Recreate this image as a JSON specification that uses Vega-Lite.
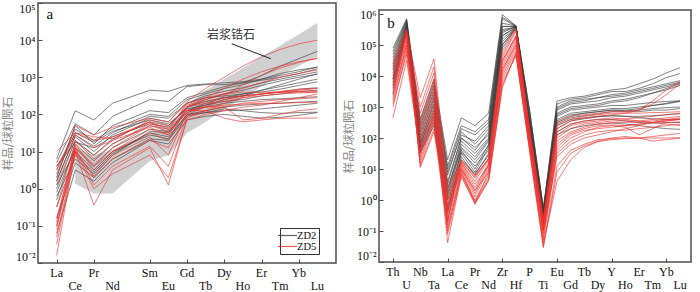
{
"$schema": "https://vega.github.io/schema/vega-lite/v6.json",
"padding": {"left": 1, "top": 1, "right": 0, "bottom": 0},
"background": "white",
"config": {
  "view": {"stroke": "#4d4d4d", "strokeWidth": 1.5},
  "axis": {"labelFont": "Liberation Serif", "labelFontSize": 12, "labelColor": "#111", "tickColor": "#4d4d4d", "domain": false, "grid": false, "titleFont": "Noto Sans CJK SC", "titleFontWeight": "normal", "titleColor": "#888", "titleFontSize": 11.5}
},
"datasets": {
"band": [
{"x":1,"lo":1.35,"hi":12.6},{"x":2,"lo":0.74,"hi":7.9},{"x":3,"lo":0.74,"hi":11.2},{"x":5,"lo":5.6,"hi":31.6},{"x":6,"lo":7.9,"hi":40},{"x":7,"lo":31.6,"hi":178},{"x":8,"lo":63,"hi":447},{"x":9,"lo":141,"hi":891},{"x":10,"lo":282,"hi":1780},{"x":11,"lo":562,"hi":3550},{"x":12,"lo":1120,"hi":7080},{"x":13,"lo":2000,"hi":14100},{"x":14,"lo":3550,"hi":29500}
],
"a": [
{"s":"B1","g":"ZD2","x":0,"v":6.3},{"s":"B1","g":"ZD2","x":1,"v":126},{"s":"B1","g":"ZD2","x":2,"v":71},{"s":"B1","g":"ZD2","x":3,"v":200},{"s":"B1","g":"ZD2","x":5,"v":447},{"s":"B1","g":"ZD2","x":6,"v":417},{"s":"B1","g":"ZD2","x":7,"v":603},{"s":"B1","g":"ZD2","x":8,"v":661},{"s":"B1","g":"ZD2","x":9,"v":708},{"s":"B1","g":"ZD2","x":10,"v":760},{"s":"B1","g":"ZD2","x":11,"v":890},{"s":"B1","g":"ZD2","x":12,"v":1120},{"s":"B1","g":"ZD2","x":13,"v":1410},{"s":"B1","g":"ZD2","x":14,"v":1900},
{"s":"B2","g":"ZD2","x":0,"v":2},{"s":"B2","g":"ZD2","x":1,"v":50},{"s":"B2","g":"ZD2","x":2,"v":16},{"s":"B2","g":"ZD2","x":3,"v":50},{"s":"B2","g":"ZD2","x":5,"v":126},{"s":"B2","g":"ZD2","x":6,"v":112},{"s":"B2","g":"ZD2","x":7,"v":282},{"s":"B2","g":"ZD2","x":8,"v":398},{"s":"B2","g":"ZD2","x":9,"v":562},{"s":"B2","g":"ZD2","x":10,"v":708},{"s":"B2","g":"ZD2","x":11,"v":1120},{"s":"B2","g":"ZD2","x":12,"v":2000},{"s":"B2","g":"ZD2","x":13,"v":3160},{"s":"B2","g":"ZD2","x":14,"v":5000},
{"s":"B3","g":"ZD2","x":0,"v":5},{"s":"B3","g":"ZD2","x":1,"v":56},{"s":"B3","g":"ZD2","x":2,"v":28},{"s":"B3","g":"ZD2","x":3,"v":89},{"s":"B3","g":"ZD2","x":5,"v":251},{"s":"B3","g":"ZD2","x":6,"v":224},{"s":"B3","g":"ZD2","x":7,"v":562},{"s":"B3","g":"ZD2","x":8,"v":631},{"s":"B3","g":"ZD2","x":9,"v":631},{"s":"B3","g":"ZD2","x":10,"v":708},{"s":"B3","g":"ZD2","x":11,"v":832},{"s":"B3","g":"ZD2","x":12,"v":1000},{"s":"B3","g":"ZD2","x":13,"v":1260},{"s":"B3","g":"ZD2","x":14,"v":1700},
{"s":"B4","g":"ZD2","x":0,"v":3.2},{"s":"B4","g":"ZD2","x":1,"v":40},{"s":"B4","g":"ZD2","x":2,"v":20},{"s":"B4","g":"ZD2","x":3,"v":40},{"s":"B4","g":"ZD2","x":5,"v":100},{"s":"B4","g":"ZD2","x":6,"v":89},{"s":"B4","g":"ZD2","x":7,"v":251},{"s":"B4","g":"ZD2","x":8,"v":355},{"s":"B4","g":"ZD2","x":9,"v":501},{"s":"B4","g":"ZD2","x":10,"v":631},{"s":"B4","g":"ZD2","x":11,"v":891},{"s":"B4","g":"ZD2","x":12,"v":1260},{"s":"B4","g":"ZD2","x":13,"v":1580},{"s":"B4","g":"ZD2","x":14,"v":1860},
{"s":"B5","g":"ZD2","x":0,"v":1.6},{"s":"B5","g":"ZD2","x":1,"v":28},{"s":"B5","g":"ZD2","x":2,"v":14},{"s":"B5","g":"ZD2","x":3,"v":32},{"s":"B5","g":"ZD2","x":5,"v":89},{"s":"B5","g":"ZD2","x":6,"v":79},{"s":"B5","g":"ZD2","x":7,"v":200},{"s":"B5","g":"ZD2","x":8,"v":316},{"s":"B5","g":"ZD2","x":9,"v":417},{"s":"B5","g":"ZD2","x":10,"v":525},{"s":"B5","g":"ZD2","x":11,"v":708},{"s":"B5","g":"ZD2","x":12,"v":891},{"s":"B5","g":"ZD2","x":13,"v":1120},{"s":"B5","g":"ZD2","x":14,"v":1400},
{"s":"B6","g":"ZD2","x":0,"v":1},{"s":"B6","g":"ZD2","x":1,"v":20},{"s":"B6","g":"ZD2","x":2,"v":8},{"s":"B6","g":"ZD2","x":3,"v":22},{"s":"B6","g":"ZD2","x":5,"v":63},{"s":"B6","g":"ZD2","x":6,"v":50},{"s":"B6","g":"ZD2","x":7,"v":158},{"s":"B6","g":"ZD2","x":8,"v":251},{"s":"B6","g":"ZD2","x":9,"v":355},{"s":"B6","g":"ZD2","x":10,"v":447},{"s":"B6","g":"ZD2","x":11,"v":603},{"s":"B6","g":"ZD2","x":12,"v":794},{"s":"B6","g":"ZD2","x":13,"v":1000},{"s":"B6","g":"ZD2","x":14,"v":1200},
{"s":"B7","g":"ZD2","x":0,"v":0.5},{"s":"B7","g":"ZD2","x":1,"v":16},{"s":"B7","g":"ZD2","x":2,"v":5.6},{"s":"B7","g":"ZD2","x":3,"v":16},{"s":"B7","g":"ZD2","x":5,"v":50},{"s":"B7","g":"ZD2","x":6,"v":40},{"s":"B7","g":"ZD2","x":7,"v":126},{"s":"B7","g":"ZD2","x":8,"v":200},{"s":"B7","g":"ZD2","x":9,"v":282},{"s":"B7","g":"ZD2","x":10,"v":355},{"s":"B7","g":"ZD2","x":11,"v":447},{"s":"B7","g":"ZD2","x":12,"v":562},{"s":"B7","g":"ZD2","x":13,"v":708},{"s":"B7","g":"ZD2","x":14,"v":890},
{"s":"B8","g":"ZD2","x":0,"v":2.5},{"s":"B8","g":"ZD2","x":1,"v":32},{"s":"B8","g":"ZD2","x":2,"v":18},{"s":"B8","g":"ZD2","x":3,"v":35},{"s":"B8","g":"ZD2","x":5,"v":71},{"s":"B8","g":"ZD2","x":6,"v":56},{"s":"B8","g":"ZD2","x":7,"v":141},{"s":"B8","g":"ZD2","x":8,"v":178},{"s":"B8","g":"ZD2","x":9,"v":224},{"s":"B8","g":"ZD2","x":10,"v":251},{"s":"B8","g":"ZD2","x":11,"v":316},{"s":"B8","g":"ZD2","x":12,"v":355},{"s":"B8","g":"ZD2","x":13,"v":417},{"s":"B8","g":"ZD2","x":14,"v":447},
{"s":"B9","g":"ZD2","x":0,"v":0.8},{"s":"B9","g":"ZD2","x":1,"v":12.6},{"s":"B9","g":"ZD2","x":2,"v":4},{"s":"B9","g":"ZD2","x":3,"v":12.6},{"s":"B9","g":"ZD2","x":5,"v":40},{"s":"B9","g":"ZD2","x":6,"v":35},{"s":"B9","g":"ZD2","x":7,"v":112},{"s":"B9","g":"ZD2","x":8,"v":158},{"s":"B9","g":"ZD2","x":9,"v":200},{"s":"B9","g":"ZD2","x":10,"v":224},{"s":"B9","g":"ZD2","x":11,"v":251},{"s":"B9","g":"ZD2","x":12,"v":263},{"s":"B9","g":"ZD2","x":13,"v":282},{"s":"B9","g":"ZD2","x":14,"v":300},
{"s":"B10","g":"ZD2","x":0,"v":0.32},{"s":"B10","g":"ZD2","x":1,"v":8},{"s":"B10","g":"ZD2","x":2,"v":2.8},{"s":"B10","g":"ZD2","x":3,"v":8.9},{"s":"B10","g":"ZD2","x":5,"v":32},{"s":"B10","g":"ZD2","x":6,"v":25},{"s":"B10","g":"ZD2","x":7,"v":100},{"s":"B10","g":"ZD2","x":8,"v":126},{"s":"B10","g":"ZD2","x":9,"v":158},{"s":"B10","g":"ZD2","x":10,"v":178},{"s":"B10","g":"ZD2","x":11,"v":190},{"s":"B10","g":"ZD2","x":12,"v":200},{"s":"B10","g":"ZD2","x":13,"v":214},{"s":"B10","g":"ZD2","x":14,"v":224},
{"s":"B11","g":"ZD2","x":0,"v":1.26},{"s":"B11","g":"ZD2","x":1,"v":10},{"s":"B11","g":"ZD2","x":2,"v":3.2},{"s":"B11","g":"ZD2","x":3,"v":10},{"s":"B11","g":"ZD2","x":5,"v":28},{"s":"B11","g":"ZD2","x":6,"v":22},{"s":"B11","g":"ZD2","x":7,"v":100},{"s":"B11","g":"ZD2","x":8,"v":112},{"s":"B11","g":"ZD2","x":9,"v":126},{"s":"B11","g":"ZD2","x":10,"v":132},{"s":"B11","g":"ZD2","x":11,"v":141},{"s":"B11","g":"ZD2","x":12,"v":158},{"s":"B11","g":"ZD2","x":13,"v":178},{"s":"B11","g":"ZD2","x":14,"v":200},
{"s":"B12","g":"ZD2","x":0,"v":0.16},{"s":"B12","g":"ZD2","x":1,"v":5},{"s":"B12","g":"ZD2","x":2,"v":2},{"s":"B12","g":"ZD2","x":3,"v":6.3},{"s":"B12","g":"ZD2","x":5,"v":22},{"s":"B12","g":"ZD2","x":6,"v":20},{"s":"B12","g":"ZD2","x":7,"v":89},{"s":"B12","g":"ZD2","x":8,"v":112},{"s":"B12","g":"ZD2","x":9,"v":141},{"s":"B12","g":"ZD2","x":10,"v":126},{"s":"B12","g":"ZD2","x":11,"v":112},{"s":"B12","g":"ZD2","x":12,"v":107},{"s":"B12","g":"ZD2","x":13,"v":112},{"s":"B12","g":"ZD2","x":14,"v":115},
{"s":"B13","g":"ZD2","x":0,"v":4},{"s":"B13","g":"ZD2","x":1,"v":18},{"s":"B13","g":"ZD2","x":2,"v":12.6},{"s":"B13","g":"ZD2","x":3,"v":25},{"s":"B13","g":"ZD2","x":5,"v":56},{"s":"B13","g":"ZD2","x":6,"v":45},{"s":"B13","g":"ZD2","x":7,"v":158},{"s":"B13","g":"ZD2","x":8,"v":224},{"s":"B13","g":"ZD2","x":9,"v":282},{"s":"B13","g":"ZD2","x":10,"v":316},{"s":"B13","g":"ZD2","x":11,"v":355},{"s":"B13","g":"ZD2","x":12,"v":398},{"s":"B13","g":"ZD2","x":13,"v":479},{"s":"B13","g":"ZD2","x":14,"v":525},
{"s":"B14","g":"ZD2","x":0,"v":0.063},{"s":"B14","g":"ZD2","x":1,"v":3.2},{"s":"B14","g":"ZD2","x":2,"v":1.6},{"s":"B14","g":"ZD2","x":3,"v":5},{"s":"B14","g":"ZD2","x":5,"v":20},{"s":"B14","g":"ZD2","x":6,"v":16},{"s":"B14","g":"ZD2","x":7,"v":71},{"s":"B14","g":"ZD2","x":8,"v":89},{"s":"B14","g":"ZD2","x":9,"v":100},{"s":"B14","g":"ZD2","x":10,"v":89},{"s":"B14","g":"ZD2","x":11,"v":80},{"s":"B14","g":"ZD2","x":12,"v":83},{"s":"B14","g":"ZD2","x":13,"v":95},{"s":"B14","g":"ZD2","x":14,"v":112},
{"s":"B15","g":"ZD2","x":0,"v":1.6},{"s":"B15","g":"ZD2","x":1,"v":25},{"s":"B15","g":"ZD2","x":2,"v":10},{"s":"B15","g":"ZD2","x":3,"v":28},{"s":"B15","g":"ZD2","x":5,"v":79},{"s":"B15","g":"ZD2","x":6,"v":63},{"s":"B15","g":"ZD2","x":7,"v":200},{"s":"B15","g":"ZD2","x":8,"v":282},{"s":"B15","g":"ZD2","x":9,"v":316},{"s":"B15","g":"ZD2","x":10,"v":355},{"s":"B15","g":"ZD2","x":11,"v":398},{"s":"B15","g":"ZD2","x":12,"v":479},{"s":"B15","g":"ZD2","x":13,"v":603},{"s":"B15","g":"ZD2","x":14,"v":760},
{"s":"B16","g":"ZD2","x":0,"v":0.63},{"s":"B16","g":"ZD2","x":1,"v":6.3},{"s":"B16","g":"ZD2","x":2,"v":2.5},{"s":"B16","g":"ZD2","x":3,"v":7.9},{"s":"B16","g":"ZD2","x":5,"v":35},{"s":"B16","g":"ZD2","x":6,"v":32},{"s":"B16","g":"ZD2","x":7,"v":126},{"s":"B16","g":"ZD2","x":8,"v":178},{"s":"B16","g":"ZD2","x":9,"v":251},{"s":"B16","g":"ZD2","x":10,"v":316},{"s":"B16","g":"ZD2","x":11,"v":447},{"s":"B16","g":"ZD2","x":12,"v":631},{"s":"B16","g":"ZD2","x":13,"v":891},{"s":"B16","g":"ZD2","x":14,"v":1260},
{"s":"R1","g":"ZD5","x":0,"v":2},{"s":"R1","g":"ZD5","x":1,"v":50},{"s":"R1","g":"ZD5","x":2,"v":28},{"s":"R1","g":"ZD5","x":3,"v":45},{"s":"R1","g":"ZD5","x":5,"v":79},{"s":"R1","g":"ZD5","x":6,"v":63},{"s":"R1","g":"ZD5","x":7,"v":224},{"s":"R1","g":"ZD5","x":8,"v":501},{"s":"R1","g":"ZD5","x":9,"v":1000},{"s":"R1","g":"ZD5","x":10,"v":2000},{"s":"R1","g":"ZD5","x":11,"v":3550},{"s":"R1","g":"ZD5","x":12,"v":5620},{"s":"R1","g":"ZD5","x":13,"v":7940},{"s":"R1","g":"ZD5","x":14,"v":10000},
{"s":"R2","g":"ZD5","x":0,"v":0.1},{"s":"R2","g":"ZD5","x":1,"v":12.6},{"s":"R2","g":"ZD5","x":2,"v":4},{"s":"R2","g":"ZD5","x":3,"v":10},{"s":"R2","g":"ZD5","x":5,"v":32},{"s":"R2","g":"ZD5","x":6,"v":20},{"s":"R2","g":"ZD5","x":7,"v":158},{"s":"R2","g":"ZD5","x":8,"v":282},{"s":"R2","g":"ZD5","x":9,"v":501},{"s":"R2","g":"ZD5","x":10,"v":891},{"s":"R2","g":"ZD5","x":11,"v":1410},{"s":"R2","g":"ZD5","x":12,"v":2000},{"s":"R2","g":"ZD5","x":13,"v":2630},{"s":"R2","g":"ZD5","x":14,"v":3160},
{"s":"R3","g":"ZD5","x":0,"v":0.016},{"s":"R3","g":"ZD5","x":1,"v":11},{"s":"R3","g":"ZD5","x":2,"v":2},{"s":"R3","g":"ZD5","x":3,"v":6.3},{"s":"R3","g":"ZD5","x":5,"v":20},{"s":"R3","g":"ZD5","x":6,"v":12.6},{"s":"R3","g":"ZD5","x":7,"v":100},{"s":"R3","g":"ZD5","x":8,"v":158},{"s":"R3","g":"ZD5","x":9,"v":251},{"s":"R3","g":"ZD5","x":10,"v":316},{"s":"R3","g":"ZD5","x":11,"v":355},{"s":"R3","g":"ZD5","x":12,"v":417},{"s":"R3","g":"ZD5","x":13,"v":479},{"s":"R3","g":"ZD5","x":14,"v":500},
{"s":"R4","g":"ZD5","x":0,"v":0.126},{"s":"R4","g":"ZD5","x":1,"v":16},{"s":"R4","g":"ZD5","x":2,"v":3.2},{"s":"R4","g":"ZD5","x":3,"v":10},{"s":"R4","g":"ZD5","x":5,"v":40},{"s":"R4","g":"ZD5","x":6,"v":28},{"s":"R4","g":"ZD5","x":7,"v":158},{"s":"R4","g":"ZD5","x":8,"v":224},{"s":"R4","g":"ZD5","x":9,"v":282},{"s":"R4","g":"ZD5","x":10,"v":316},{"s":"R4","g":"ZD5","x":11,"v":355},{"s":"R4","g":"ZD5","x":12,"v":398},{"s":"R4","g":"ZD5","x":13,"v":447},{"s":"R4","g":"ZD5","x":14,"v":500},
{"s":"R5","g":"ZD5","x":0,"v":0.05},{"s":"R5","g":"ZD5","x":1,"v":10},{"s":"R5","g":"ZD5","x":2,"v":0.36},{"s":"R5","g":"ZD5","x":3,"v":3.2},{"s":"R5","g":"ZD5","x":5,"v":12.6},{"s":"R5","g":"ZD5","x":6,"v":1.26},{"s":"R5","g":"ZD5","x":7,"v":79},{"s":"R5","g":"ZD5","x":8,"v":126},{"s":"R5","g":"ZD5","x":9,"v":200},{"s":"R5","g":"ZD5","x":10,"v":282},{"s":"R5","g":"ZD5","x":11,"v":355},{"s":"R5","g":"ZD5","x":12,"v":398},{"s":"R5","g":"ZD5","x":13,"v":417},{"s":"R5","g":"ZD5","x":14,"v":427},
{"s":"R6","g":"ZD5","x":0,"v":3.2},{"s":"R6","g":"ZD5","x":1,"v":32},{"s":"R6","g":"ZD5","x":2,"v":20},{"s":"R6","g":"ZD5","x":3,"v":25},{"s":"R6","g":"ZD5","x":5,"v":63},{"s":"R6","g":"ZD5","x":6,"v":40},{"s":"R6","g":"ZD5","x":7,"v":200},{"s":"R6","g":"ZD5","x":8,"v":282},{"s":"R6","g":"ZD5","x":9,"v":355},{"s":"R6","g":"ZD5","x":10,"v":398},{"s":"R6","g":"ZD5","x":11,"v":398},{"s":"R6","g":"ZD5","x":12,"v":398},{"s":"R6","g":"ZD5","x":13,"v":398},{"s":"R6","g":"ZD5","x":14,"v":400},
{"s":"R7","g":"ZD5","x":0,"v":0.16},{"s":"R7","g":"ZD5","x":1,"v":12.6},{"s":"R7","g":"ZD5","x":2,"v":1.26},{"s":"R7","g":"ZD5","x":3,"v":4},{"s":"R7","g":"ZD5","x":5,"v":14},{"s":"R7","g":"ZD5","x":6,"v":4},{"s":"R7","g":"ZD5","x":7,"v":89},{"s":"R7","g":"ZD5","x":8,"v":126},{"s":"R7","g":"ZD5","x":9,"v":158},{"s":"R7","g":"ZD5","x":10,"v":200},{"s":"R7","g":"ZD5","x":11,"v":224},{"s":"R7","g":"ZD5","x":12,"v":251},{"s":"R7","g":"ZD5","x":13,"v":263},{"s":"R7","g":"ZD5","x":14,"v":282},
{"s":"R8","g":"ZD5","x":0,"v":1.26},{"s":"R8","g":"ZD5","x":1,"v":20},{"s":"R8","g":"ZD5","x":2,"v":6.3},{"s":"R8","g":"ZD5","x":3,"v":16},{"s":"R8","g":"ZD5","x":5,"v":56},{"s":"R8","g":"ZD5","x":6,"v":45},{"s":"R8","g":"ZD5","x":7,"v":178},{"s":"R8","g":"ZD5","x":8,"v":251},{"s":"R8","g":"ZD5","x":9,"v":355},{"s":"R8","g":"ZD5","x":10,"v":501},{"s":"R8","g":"ZD5","x":11,"v":708},{"s":"R8","g":"ZD5","x":12,"v":1000},{"s":"R8","g":"ZD5","x":13,"v":1260},{"s":"R8","g":"ZD5","x":14,"v":1580},
{"s":"R9","g":"ZD5","x":0,"v":0.08},{"s":"R9","g":"ZD5","x":1,"v":14},{"s":"R9","g":"ZD5","x":2,"v":4.5},{"s":"R9","g":"ZD5","x":3,"v":12.6},{"s":"R9","g":"ZD5","x":5,"v":50},{"s":"R9","g":"ZD5","x":6,"v":35},{"s":"R9","g":"ZD5","x":7,"v":126},{"s":"R9","g":"ZD5","x":8,"v":158},{"s":"R9","g":"ZD5","x":9,"v":178},{"s":"R9","g":"ZD5","x":10,"v":190},{"s":"R9","g":"ZD5","x":11,"v":200},{"s":"R9","g":"ZD5","x":12,"v":200},{"s":"R9","g":"ZD5","x":13,"v":209},{"s":"R9","g":"ZD5","x":14,"v":214},
{"s":"R10","g":"ZD5","x":0,"v":10},{"s":"R10","g":"ZD5","x":1,"v":32},{"s":"R10","g":"ZD5","x":2,"v":25},{"s":"R10","g":"ZD5","x":3,"v":22},{"s":"R10","g":"ZD5","x":5,"v":63},{"s":"R10","g":"ZD5","x":6,"v":32},{"s":"R10","g":"ZD5","x":7,"v":126},{"s":"R10","g":"ZD5","x":8,"v":126},{"s":"R10","g":"ZD5","x":9,"v":79},{"s":"R10","g":"ZD5","x":10,"v":63},{"s":"R10","g":"ZD5","x":11,"v":71},{"s":"R10","g":"ZD5","x":12,"v":79},{"s":"R10","g":"ZD5","x":13,"v":79},{"s":"R10","g":"ZD5","x":14,"v":80},
{"s":"R11","g":"ZD5","x":0,"v":0.032},{"s":"R11","g":"ZD5","x":1,"v":10},{"s":"R11","g":"ZD5","x":2,"v":1},{"s":"R11","g":"ZD5","x":3,"v":2.5},{"s":"R11","g":"ZD5","x":5,"v":8},{"s":"R11","g":"ZD5","x":6,"v":2},{"s":"R11","g":"ZD5","x":7,"v":71},{"s":"R11","g":"ZD5","x":8,"v":100},{"s":"R11","g":"ZD5","x":9,"v":126},{"s":"R11","g":"ZD5","x":10,"v":158},{"s":"R11","g":"ZD5","x":11,"v":178},{"s":"R11","g":"ZD5","x":12,"v":224},{"s":"R11","g":"ZD5","x":13,"v":282},{"s":"R11","g":"ZD5","x":14,"v":355},
{"s":"R12","g":"ZD5","x":0,"v":0.32},{"s":"R12","g":"ZD5","x":1,"v":18},{"s":"R12","g":"ZD5","x":2,"v":8},{"s":"R12","g":"ZD5","x":3,"v":20},{"s":"R12","g":"ZD5","x":5,"v":71},{"s":"R12","g":"ZD5","x":6,"v":50},{"s":"R12","g":"ZD5","x":7,"v":158},{"s":"R12","g":"ZD5","x":8,"v":200},{"s":"R12","g":"ZD5","x":9,"v":224},{"s":"R12","g":"ZD5","x":10,"v":282},{"s":"R12","g":"ZD5","x":11,"v":316},{"s":"R12","g":"ZD5","x":12,"v":355},{"s":"R12","g":"ZD5","x":13,"v":380},{"s":"R12","g":"ZD5","x":14,"v":398},
{"s":"R13","g":"ZD5","x":0,"v":0.1},{"s":"R13","g":"ZD5","x":1,"v":10},{"s":"R13","g":"ZD5","x":2,"v":2.2},{"s":"R13","g":"ZD5","x":3,"v":8},{"s":"R13","g":"ZD5","x":5,"v":25},{"s":"R13","g":"ZD5","x":6,"v":8},{"s":"R13","g":"ZD5","x":7,"v":112},{"s":"R13","g":"ZD5","x":8,"v":178},{"s":"R13","g":"ZD5","x":9,"v":316},{"s":"R13","g":"ZD5","x":10,"v":631},{"s":"R13","g":"ZD5","x":11,"v":1120},{"s":"R13","g":"ZD5","x":12,"v":1780},{"s":"R13","g":"ZD5","x":13,"v":2510},{"s":"R13","g":"ZD5","x":14,"v":3310},
{"s":"R14","g":"ZD5","x":0,"v":4},{"s":"R14","g":"ZD5","x":1,"v":28},{"s":"R14","g":"ZD5","x":2,"v":12.6},{"s":"R14","g":"ZD5","x":3,"v":20},{"s":"R14","g":"ZD5","x":5,"v":45},{"s":"R14","g":"ZD5","x":6,"v":28},{"s":"R14","g":"ZD5","x":7,"v":126},{"s":"R14","g":"ZD5","x":8,"v":158},{"s":"R14","g":"ZD5","x":9,"v":158},{"s":"R14","g":"ZD5","x":10,"v":71},{"s":"R14","g":"ZD5","x":11,"v":79},{"s":"R14","g":"ZD5","x":12,"v":100},{"s":"R14","g":"ZD5","x":13,"v":126},{"s":"R14","g":"ZD5","x":14,"v":141}
],
"b": [
{"s":"B1","g":"ZD2","x":0,"v":79400},{"s":"B1","g":"ZD2","x":1,"v":708000},{"s":"B1","g":"ZD2","x":2,"v":398},{"s":"B1","g":"ZD2","x":3,"v":7940},{"s":"B1","g":"ZD2","x":4,"v":20},{"s":"B1","g":"ZD2","x":5,"v":447},{"s":"B1","g":"ZD2","x":6,"v":251},{"s":"B1","g":"ZD2","x":7,"v":631},{"s":"B1","g":"ZD2","x":8,"v":955000},{"s":"B1","g":"ZD2","x":9,"v":417000},{"s":"B1","g":"ZD2","x":10,"v":794},{"s":"B1","g":"ZD2","x":11,"v":0.5},{"s":"B1","g":"ZD2","x":12,"v":1550},{"s":"B1","g":"ZD2","x":13,"v":2000},{"s":"B1","g":"ZD2","x":14,"v":2240},{"s":"B1","g":"ZD2","x":15,"v":2820},{"s":"B1","g":"ZD2","x":16,"v":3550},{"s":"B1","g":"ZD2","x":17,"v":3980},{"s":"B1","g":"ZD2","x":18,"v":5620},{"s":"B1","g":"ZD2","x":19,"v":7940},{"s":"B1","g":"ZD2","x":20,"v":12600},{"s":"B1","g":"ZD2","x":21,"v":18600},
{"s":"B2","g":"ZD2","x":0,"v":50100},{"s":"B2","g":"ZD2","x":1,"v":631000},{"s":"B2","g":"ZD2","x":2,"v":251},{"s":"B2","g":"ZD2","x":3,"v":5010},{"s":"B2","g":"ZD2","x":4,"v":10},{"s":"B2","g":"ZD2","x":5,"v":200},{"s":"B2","g":"ZD2","x":6,"v":126},{"s":"B2","g":"ZD2","x":7,"v":316},{"s":"B2","g":"ZD2","x":8,"v":708000},{"s":"B2","g":"ZD2","x":9,"v":398000},{"s":"B2","g":"ZD2","x":10,"v":501},{"s":"B2","g":"ZD2","x":11,"v":0.45},{"s":"B2","g":"ZD2","x":12,"v":1260},{"s":"B2","g":"ZD2","x":13,"v":1780},{"s":"B2","g":"ZD2","x":14,"v":2000},{"s":"B2","g":"ZD2","x":15,"v":2510},{"s":"B2","g":"ZD2","x":16,"v":3160},{"s":"B2","g":"ZD2","x":17,"v":3160},{"s":"B2","g":"ZD2","x":18,"v":3980},{"s":"B2","g":"ZD2","x":19,"v":5620},{"s":"B2","g":"ZD2","x":20,"v":8910},{"s":"B2","g":"ZD2","x":21,"v":12000},
{"s":"B3","g":"ZD2","x":0,"v":31600},{"s":"B3","g":"ZD2","x":1,"v":501000},{"s":"B3","g":"ZD2","x":2,"v":158},{"s":"B3","g":"ZD2","x":3,"v":3160},{"s":"B3","g":"ZD2","x":4,"v":6.3},{"s":"B3","g":"ZD2","x":5,"v":158},{"s":"B3","g":"ZD2","x":6,"v":63},{"s":"B3","g":"ZD2","x":7,"v":200},{"s":"B3","g":"ZD2","x":8,"v":398000},{"s":"B3","g":"ZD2","x":9,"v":398000},{"s":"B3","g":"ZD2","x":10,"v":398},{"s":"B3","g":"ZD2","x":11,"v":0.4},{"s":"B3","g":"ZD2","x":12,"v":1000},{"s":"B3","g":"ZD2","x":13,"v":1580},{"s":"B3","g":"ZD2","x":14,"v":1780},{"s":"B3","g":"ZD2","x":15,"v":2000},{"s":"B3","g":"ZD2","x":16,"v":2240},{"s":"B3","g":"ZD2","x":17,"v":2510},{"s":"B3","g":"ZD2","x":18,"v":3160},{"s":"B3","g":"ZD2","x":19,"v":3980},{"s":"B3","g":"ZD2","x":20,"v":5010},{"s":"B3","g":"ZD2","x":21,"v":6310},
{"s":"B4","g":"ZD2","x":0,"v":20000},{"s":"B4","g":"ZD2","x":1,"v":447000},{"s":"B4","g":"ZD2","x":2,"v":100},{"s":"B4","g":"ZD2","x":3,"v":2000},{"s":"B4","g":"ZD2","x":4,"v":3.2},{"s":"B4","g":"ZD2","x":5,"v":100},{"s":"B4","g":"ZD2","x":6,"v":50},{"s":"B4","g":"ZD2","x":7,"v":126},{"s":"B4","g":"ZD2","x":8,"v":316000},{"s":"B4","g":"ZD2","x":9,"v":380000},{"s":"B4","g":"ZD2","x":10,"v":316},{"s":"B4","g":"ZD2","x":11,"v":0.35},{"s":"B4","g":"ZD2","x":12,"v":794},{"s":"B4","g":"ZD2","x":13,"v":1260},{"s":"B4","g":"ZD2","x":14,"v":1410},{"s":"B4","g":"ZD2","x":15,"v":1580},{"s":"B4","g":"ZD2","x":16,"v":2000},{"s":"B4","g":"ZD2","x":17,"v":2240},{"s":"B4","g":"ZD2","x":18,"v":2820},{"s":"B4","g":"ZD2","x":19,"v":3550},{"s":"B4","g":"ZD2","x":20,"v":4470},{"s":"B4","g":"ZD2","x":21,"v":6030},
{"s":"B5","g":"ZD2","x":0,"v":12600},{"s":"B5","g":"ZD2","x":1,"v":398000},{"s":"B5","g":"ZD2","x":2,"v":79},{"s":"B5","g":"ZD2","x":3,"v":1260},{"s":"B5","g":"ZD2","x":4,"v":2},{"s":"B5","g":"ZD2","x":5,"v":79},{"s":"B5","g":"ZD2","x":6,"v":32},{"s":"B5","g":"ZD2","x":7,"v":100},{"s":"B5","g":"ZD2","x":8,"v":251000},{"s":"B5","g":"ZD2","x":9,"v":398000},{"s":"B5","g":"ZD2","x":10,"v":282},{"s":"B5","g":"ZD2","x":11,"v":0.32},{"s":"B5","g":"ZD2","x":12,"v":631},{"s":"B5","g":"ZD2","x":13,"v":1000},{"s":"B5","g":"ZD2","x":14,"v":1120},{"s":"B5","g":"ZD2","x":15,"v":1260},{"s":"B5","g":"ZD2","x":16,"v":1580},{"s":"B5","g":"ZD2","x":17,"v":1780},{"s":"B5","g":"ZD2","x":18,"v":2240},{"s":"B5","g":"ZD2","x":19,"v":2820},{"s":"B5","g":"ZD2","x":20,"v":3550},{"s":"B5","g":"ZD2","x":21,"v":5010},
{"s":"B6","g":"ZD2","x":0,"v":10000},{"s":"B6","g":"ZD2","x":1,"v":355000},{"s":"B6","g":"ZD2","x":2,"v":63},{"s":"B6","g":"ZD2","x":3,"v":794},{"s":"B6","g":"ZD2","x":4,"v":1.26},{"s":"B6","g":"ZD2","x":5,"v":50},{"s":"B6","g":"ZD2","x":6,"v":20},{"s":"B6","g":"ZD2","x":7,"v":79},{"s":"B6","g":"ZD2","x":8,"v":200000},{"s":"B6","g":"ZD2","x":9,"v":372000},{"s":"B6","g":"ZD2","x":10,"v":251},{"s":"B6","g":"ZD2","x":11,"v":0.28},{"s":"B6","g":"ZD2","x":12,"v":501},{"s":"B6","g":"ZD2","x":13,"v":794},{"s":"B6","g":"ZD2","x":14,"v":891},{"s":"B6","g":"ZD2","x":15,"v":1000},{"s":"B6","g":"ZD2","x":16,"v":1120},{"s":"B6","g":"ZD2","x":17,"v":1120},{"s":"B6","g":"ZD2","x":18,"v":1260},{"s":"B6","g":"ZD2","x":19,"v":1410},{"s":"B6","g":"ZD2","x":20,"v":1510},{"s":"B6","g":"ZD2","x":21,"v":1580},
{"s":"B7","g":"ZD2","x":0,"v":7940},{"s":"B7","g":"ZD2","x":1,"v":316000},{"s":"B7","g":"ZD2","x":2,"v":50},{"s":"B7","g":"ZD2","x":3,"v":631},{"s":"B7","g":"ZD2","x":4,"v":0.63},{"s":"B7","g":"ZD2","x":5,"v":40},{"s":"B7","g":"ZD2","x":6,"v":10},{"s":"B7","g":"ZD2","x":7,"v":63},{"s":"B7","g":"ZD2","x":8,"v":158000},{"s":"B7","g":"ZD2","x":9,"v":355000},{"s":"B7","g":"ZD2","x":10,"v":224},{"s":"B7","g":"ZD2","x":11,"v":0.25},{"s":"B7","g":"ZD2","x":12,"v":398},{"s":"B7","g":"ZD2","x":13,"v":631},{"s":"B7","g":"ZD2","x":14,"v":708},{"s":"B7","g":"ZD2","x":15,"v":794},{"s":"B7","g":"ZD2","x":16,"v":891},{"s":"B7","g":"ZD2","x":17,"v":891},{"s":"B7","g":"ZD2","x":18,"v":1000},{"s":"B7","g":"ZD2","x":19,"v":1120},{"s":"B7","g":"ZD2","x":20,"v":1260},{"s":"B7","g":"ZD2","x":21,"v":1510},
{"s":"B8","g":"ZD2","x":0,"v":6310},{"s":"B8","g":"ZD2","x":1,"v":282000},{"s":"B8","g":"ZD2","x":2,"v":40},{"s":"B8","g":"ZD2","x":3,"v":398},{"s":"B8","g":"ZD2","x":4,"v":0.4},{"s":"B8","g":"ZD2","x":5,"v":32},{"s":"B8","g":"ZD2","x":6,"v":7.9},{"s":"B8","g":"ZD2","x":7,"v":50},{"s":"B8","g":"ZD2","x":8,"v":126000},{"s":"B8","g":"ZD2","x":9,"v":363000},{"s":"B8","g":"ZD2","x":10,"v":200},{"s":"B8","g":"ZD2","x":11,"v":0.22},{"s":"B8","g":"ZD2","x":12,"v":316},{"s":"B8","g":"ZD2","x":13,"v":501},{"s":"B8","g":"ZD2","x":14,"v":631},{"s":"B8","g":"ZD2","x":15,"v":708},{"s":"B8","g":"ZD2","x":16,"v":794},{"s":"B8","g":"ZD2","x":17,"v":759},{"s":"B8","g":"ZD2","x":18,"v":794},{"s":"B8","g":"ZD2","x":19,"v":891},{"s":"B8","g":"ZD2","x":20,"v":955},{"s":"B8","g":"ZD2","x":21,"v":1000},
{"s":"B9","g":"ZD2","x":0,"v":39800},{"s":"B9","g":"ZD2","x":1,"v":562000},{"s":"B9","g":"ZD2","x":2,"v":200},{"s":"B9","g":"ZD2","x":3,"v":3980},{"s":"B9","g":"ZD2","x":4,"v":7.9},{"s":"B9","g":"ZD2","x":5,"v":126},{"s":"B9","g":"ZD2","x":6,"v":79},{"s":"B9","g":"ZD2","x":7,"v":251},{"s":"B9","g":"ZD2","x":8,"v":501000},{"s":"B9","g":"ZD2","x":9,"v":417000},{"s":"B9","g":"ZD2","x":10,"v":631},{"s":"B9","g":"ZD2","x":11,"v":0.5},{"s":"B9","g":"ZD2","x":12,"v":562},{"s":"B9","g":"ZD2","x":13,"v":891},{"s":"B9","g":"ZD2","x":14,"v":1000},{"s":"B9","g":"ZD2","x":15,"v":1120},{"s":"B9","g":"ZD2","x":16,"v":1410},{"s":"B9","g":"ZD2","x":17,"v":1580},{"s":"B9","g":"ZD2","x":18,"v":2000},{"s":"B9","g":"ZD2","x":19,"v":2820},{"s":"B9","g":"ZD2","x":20,"v":3980},{"s":"B9","g":"ZD2","x":21,"v":5620},
{"s":"B10","g":"ZD2","x":0,"v":15800},{"s":"B10","g":"ZD2","x":1,"v":398000},{"s":"B10","g":"ZD2","x":2,"v":56},{"s":"B10","g":"ZD2","x":3,"v":1000},{"s":"B10","g":"ZD2","x":4,"v":1.6},{"s":"B10","g":"ZD2","x":5,"v":63},{"s":"B10","g":"ZD2","x":6,"v":25},{"s":"B10","g":"ZD2","x":7,"v":89},{"s":"B10","g":"ZD2","x":8,"v":282000},{"s":"B10","g":"ZD2","x":9,"v":380000},{"s":"B10","g":"ZD2","x":10,"v":316},{"s":"B10","g":"ZD2","x":11,"v":0.35},{"s":"B10","g":"ZD2","x":12,"v":282},{"s":"B10","g":"ZD2","x":13,"v":447},{"s":"B10","g":"ZD2","x":14,"v":525},{"s":"B10","g":"ZD2","x":15,"v":603},{"s":"B10","g":"ZD2","x":16,"v":708},{"s":"B10","g":"ZD2","x":17,"v":708},{"s":"B10","g":"ZD2","x":18,"v":708},{"s":"B10","g":"ZD2","x":19,"v":794},{"s":"B10","g":"ZD2","x":20,"v":794},{"s":"B10","g":"ZD2","x":21,"v":891},
{"s":"B11","g":"ZD2","x":0,"v":3980},{"s":"B11","g":"ZD2","x":1,"v":251000},{"s":"B11","g":"ZD2","x":2,"v":35},{"s":"B11","g":"ZD2","x":3,"v":316},{"s":"B11","g":"ZD2","x":4,"v":0.21},{"s":"B11","g":"ZD2","x":5,"v":25},{"s":"B11","g":"ZD2","x":6,"v":6.3},{"s":"B11","g":"ZD2","x":7,"v":32},{"s":"B11","g":"ZD2","x":8,"v":100000},{"s":"B11","g":"ZD2","x":9,"v":355000},{"s":"B11","g":"ZD2","x":10,"v":158},{"s":"B11","g":"ZD2","x":11,"v":0.2},{"s":"B11","g":"ZD2","x":12,"v":200},{"s":"B11","g":"ZD2","x":13,"v":355},{"s":"B11","g":"ZD2","x":14,"v":417},{"s":"B11","g":"ZD2","x":15,"v":479},{"s":"B11","g":"ZD2","x":16,"v":525},{"s":"B11","g":"ZD2","x":17,"v":501},{"s":"B11","g":"ZD2","x":18,"v":501},{"s":"B11","g":"ZD2","x":19,"v":525},{"s":"B11","g":"ZD2","x":20,"v":562},{"s":"B11","g":"ZD2","x":21,"v":603},
{"s":"B12","g":"ZD2","x":0,"v":2570},{"s":"B12","g":"ZD2","x":1,"v":282000},{"s":"B12","g":"ZD2","x":2,"v":32},{"s":"B12","g":"ZD2","x":3,"v":251},{"s":"B12","g":"ZD2","x":4,"v":0.5},{"s":"B12","g":"ZD2","x":5,"v":20},{"s":"B12","g":"ZD2","x":6,"v":7.1},{"s":"B12","g":"ZD2","x":7,"v":28},{"s":"B12","g":"ZD2","x":8,"v":79400},{"s":"B12","g":"ZD2","x":9,"v":355000},{"s":"B12","g":"ZD2","x":10,"v":141},{"s":"B12","g":"ZD2","x":11,"v":0.16},{"s":"B12","g":"ZD2","x":12,"v":158},{"s":"B12","g":"ZD2","x":13,"v":282},{"s":"B12","g":"ZD2","x":14,"v":355},{"s":"B12","g":"ZD2","x":15,"v":398},{"s":"B12","g":"ZD2","x":16,"v":398},{"s":"B12","g":"ZD2","x":17,"v":355},{"s":"B12","g":"ZD2","x":18,"v":316},{"s":"B12","g":"ZD2","x":19,"v":302},{"s":"B12","g":"ZD2","x":20,"v":316},{"s":"B12","g":"ZD2","x":21,"v":316},
{"s":"B13","g":"ZD2","x":0,"v":25100},{"s":"B13","g":"ZD2","x":1,"v":501000},{"s":"B13","g":"ZD2","x":2,"v":126},{"s":"B13","g":"ZD2","x":3,"v":2510},{"s":"B13","g":"ZD2","x":4,"v":4},{"s":"B13","g":"ZD2","x":5,"v":100},{"s":"B13","g":"ZD2","x":6,"v":40},{"s":"B13","g":"ZD2","x":7,"v":158},{"s":"B13","g":"ZD2","x":8,"v":398000},{"s":"B13","g":"ZD2","x":9,"v":398000},{"s":"B13","g":"ZD2","x":10,"v":355},{"s":"B13","g":"ZD2","x":11,"v":0.4},{"s":"B13","g":"ZD2","x":12,"v":251},{"s":"B13","g":"ZD2","x":13,"v":398},{"s":"B13","g":"ZD2","x":14,"v":447},{"s":"B13","g":"ZD2","x":15,"v":501},{"s":"B13","g":"ZD2","x":16,"v":525},{"s":"B13","g":"ZD2","x":17,"v":501},{"s":"B13","g":"ZD2","x":18,"v":447},{"s":"B13","g":"ZD2","x":19,"v":417},{"s":"B13","g":"ZD2","x":20,"v":398},{"s":"B13","g":"ZD2","x":21,"v":398},
{"s":"B14","g":"ZD2","x":0,"v":5010},{"s":"B14","g":"ZD2","x":1,"v":316000},{"s":"B14","g":"ZD2","x":2,"v":45},{"s":"B14","g":"ZD2","x":3,"v":501},{"s":"B14","g":"ZD2","x":4,"v":1},{"s":"B14","g":"ZD2","x":5,"v":35},{"s":"B14","g":"ZD2","x":6,"v":12.6},{"s":"B14","g":"ZD2","x":7,"v":40},{"s":"B14","g":"ZD2","x":8,"v":100000},{"s":"B14","g":"ZD2","x":9,"v":355000},{"s":"B14","g":"ZD2","x":10,"v":178},{"s":"B14","g":"ZD2","x":11,"v":0.25},{"s":"B14","g":"ZD2","x":12,"v":126},{"s":"B14","g":"ZD2","x":13,"v":200},{"s":"B14","g":"ZD2","x":14,"v":251},{"s":"B14","g":"ZD2","x":15,"v":282},{"s":"B14","g":"ZD2","x":16,"v":302},{"s":"B14","g":"ZD2","x":17,"v":282},{"s":"B14","g":"ZD2","x":18,"v":251},{"s":"B14","g":"ZD2","x":19,"v":224},{"s":"B14","g":"ZD2","x":20,"v":200},{"s":"B14","g":"ZD2","x":21,"v":191},
{"s":"B15","g":"ZD2","x":0,"v":63100},{"s":"B15","g":"ZD2","x":1,"v":631000},{"s":"B15","g":"ZD2","x":2,"v":316},{"s":"B15","g":"ZD2","x":3,"v":6310},{"s":"B15","g":"ZD2","x":4,"v":12.6},{"s":"B15","g":"ZD2","x":5,"v":251},{"s":"B15","g":"ZD2","x":6,"v":158},{"s":"B15","g":"ZD2","x":7,"v":398},{"s":"B15","g":"ZD2","x":8,"v":794000},{"s":"B15","g":"ZD2","x":9,"v":417000},{"s":"B15","g":"ZD2","x":10,"v":708},{"s":"B15","g":"ZD2","x":11,"v":0.56},{"s":"B15","g":"ZD2","x":12,"v":891},{"s":"B15","g":"ZD2","x":13,"v":1410},{"s":"B15","g":"ZD2","x":14,"v":1580},{"s":"B15","g":"ZD2","x":15,"v":2000},{"s":"B15","g":"ZD2","x":16,"v":2510},{"s":"B15","g":"ZD2","x":17,"v":2820},{"s":"B15","g":"ZD2","x":18,"v":3550},{"s":"B15","g":"ZD2","x":19,"v":4470},{"s":"B15","g":"ZD2","x":20,"v":5620},{"s":"B15","g":"ZD2","x":21,"v":7080},
{"s":"B16","g":"ZD2","x":0,"v":7940},{"s":"B16","g":"ZD2","x":1,"v":355000},{"s":"B16","g":"ZD2","x":2,"v":71},{"s":"B16","g":"ZD2","x":3,"v":1580},{"s":"B16","g":"ZD2","x":4,"v":2.5},{"s":"B16","g":"ZD2","x":5,"v":45},{"s":"B16","g":"ZD2","x":6,"v":15.8},{"s":"B16","g":"ZD2","x":7,"v":56},{"s":"B16","g":"ZD2","x":8,"v":200000},{"s":"B16","g":"ZD2","x":9,"v":372000},{"s":"B16","g":"ZD2","x":10,"v":251},{"s":"B16","g":"ZD2","x":11,"v":0.32},{"s":"B16","g":"ZD2","x":12,"v":355},{"s":"B16","g":"ZD2","x":13,"v":562},{"s":"B16","g":"ZD2","x":14,"v":631},{"s":"B16","g":"ZD2","x":15,"v":708},{"s":"B16","g":"ZD2","x":16,"v":794},{"s":"B16","g":"ZD2","x":17,"v":794},{"s":"B16","g":"ZD2","x":18,"v":891},{"s":"B16","g":"ZD2","x":19,"v":1120},{"s":"B16","g":"ZD2","x":20,"v":1320},{"s":"B16","g":"ZD2","x":21,"v":1580},
{"s":"R1","g":"ZD5","x":0,"v":25100},{"s":"R1","g":"ZD5","x":1,"v":316000},{"s":"R1","g":"ZD5","x":2,"v":2000},{"s":"R1","g":"ZD5","x":3,"v":35500},{"s":"R1","g":"ZD5","x":4,"v":2.5},{"s":"R1","g":"ZD5","x":5,"v":17.8},{"s":"R1","g":"ZD5","x":6,"v":5},{"s":"R1","g":"ZD5","x":7,"v":22.4},{"s":"R1","g":"ZD5","x":8,"v":63100},{"s":"R1","g":"ZD5","x":9,"v":355000},{"s":"R1","g":"ZD5","x":10,"v":200},{"s":"R1","g":"ZD5","x":11,"v":0.25},{"s":"R1","g":"ZD5","x":12,"v":316},{"s":"R1","g":"ZD5","x":13,"v":501},{"s":"R1","g":"ZD5","x":14,"v":562},{"s":"R1","g":"ZD5","x":15,"v":631},{"s":"R1","g":"ZD5","x":16,"v":708},{"s":"R1","g":"ZD5","x":17,"v":708},{"s":"R1","g":"ZD5","x":18,"v":794},{"s":"R1","g":"ZD5","x":19,"v":1580},{"s":"R1","g":"ZD5","x":20,"v":3550},{"s":"R1","g":"ZD5","x":21,"v":6610},
{"s":"R2","g":"ZD5","x":0,"v":15800},{"s":"R2","g":"ZD5","x":1,"v":251000},{"s":"R2","g":"ZD5","x":2,"v":1000},{"s":"R2","g":"ZD5","x":3,"v":20000},{"s":"R2","g":"ZD5","x":4,"v":1.6},{"s":"R2","g":"ZD5","x":5,"v":15.8},{"s":"R2","g":"ZD5","x":6,"v":4},{"s":"R2","g":"ZD5","x":7,"v":20},{"s":"R2","g":"ZD5","x":8,"v":39800},{"s":"R2","g":"ZD5","x":9,"v":282000},{"s":"R2","g":"ZD5","x":10,"v":158},{"s":"R2","g":"ZD5","x":11,"v":0.2},{"s":"R2","g":"ZD5","x":12,"v":200},{"s":"R2","g":"ZD5","x":13,"v":355},{"s":"R2","g":"ZD5","x":14,"v":447},{"s":"R2","g":"ZD5","x":15,"v":501},{"s":"R2","g":"ZD5","x":16,"v":562},{"s":"R2","g":"ZD5","x":17,"v":631},{"s":"R2","g":"ZD5","x":18,"v":794},{"s":"R2","g":"ZD5","x":19,"v":1260},{"s":"R2","g":"ZD5","x":20,"v":2510},{"s":"R2","g":"ZD5","x":21,"v":5620},
{"s":"R3","g":"ZD5","x":0,"v":10000},{"s":"R3","g":"ZD5","x":1,"v":200000},{"s":"R3","g":"ZD5","x":2,"v":631},{"s":"R3","g":"ZD5","x":3,"v":12600},{"s":"R3","g":"ZD5","x":4,"v":1},{"s":"R3","g":"ZD5","x":5,"v":14.1},{"s":"R3","g":"ZD5","x":6,"v":2.5},{"s":"R3","g":"ZD5","x":7,"v":15.8},{"s":"R3","g":"ZD5","x":8,"v":25100},{"s":"R3","g":"ZD5","x":9,"v":200000},{"s":"R3","g":"ZD5","x":10,"v":126},{"s":"R3","g":"ZD5","x":11,"v":0.16},{"s":"R3","g":"ZD5","x":12,"v":126},{"s":"R3","g":"ZD5","x":13,"v":251},{"s":"R3","g":"ZD5","x":14,"v":316},{"s":"R3","g":"ZD5","x":15,"v":355},{"s":"R3","g":"ZD5","x":16,"v":398},{"s":"R3","g":"ZD5","x":17,"v":417},{"s":"R3","g":"ZD5","x":18,"v":447},{"s":"R3","g":"ZD5","x":19,"v":501},{"s":"R3","g":"ZD5","x":20,"v":562},{"s":"R3","g":"ZD5","x":21,"v":631},
{"s":"R4","g":"ZD5","x":0,"v":6310},{"s":"R4","g":"ZD5","x":1,"v":158000},{"s":"R4","g":"ZD5","x":2,"v":398},{"s":"R4","g":"ZD5","x":3,"v":7940},{"s":"R4","g":"ZD5","x":4,"v":0.63},{"s":"R4","g":"ZD5","x":5,"v":12.6},{"s":"R4","g":"ZD5","x":6,"v":2},{"s":"R4","g":"ZD5","x":7,"v":14.1},{"s":"R4","g":"ZD5","x":8,"v":20000},{"s":"R4","g":"ZD5","x":9,"v":158000},{"s":"R4","g":"ZD5","x":10,"v":100},{"s":"R4","g":"ZD5","x":11,"v":0.126},{"s":"R4","g":"ZD5","x":12,"v":100},{"s":"R4","g":"ZD5","x":13,"v":200},{"s":"R4","g":"ZD5","x":14,"v":282},{"s":"R4","g":"ZD5","x":15,"v":316},{"s":"R4","g":"ZD5","x":16,"v":355},{"s":"R4","g":"ZD5","x":17,"v":355},{"s":"R4","g":"ZD5","x":18,"v":355},{"s":"R4","g":"ZD5","x":19,"v":398},{"s":"R4","g":"ZD5","x":20,"v":447},{"s":"R4","g":"ZD5","x":21,"v":501},
{"s":"R5","g":"ZD5","x":0,"v":3980},{"s":"R5","g":"ZD5","x":1,"v":126000},{"s":"R5","g":"ZD5","x":2,"v":251},{"s":"R5","g":"ZD5","x":3,"v":5010},{"s":"R5","g":"ZD5","x":4,"v":0.4},{"s":"R5","g":"ZD5","x":5,"v":11.2},{"s":"R5","g":"ZD5","x":6,"v":1.6},{"s":"R5","g":"ZD5","x":7,"v":12.6},{"s":"R5","g":"ZD5","x":8,"v":15800},{"s":"R5","g":"ZD5","x":9,"v":126000},{"s":"R5","g":"ZD5","x":10,"v":89},{"s":"R5","g":"ZD5","x":11,"v":0.1},{"s":"R5","g":"ZD5","x":12,"v":79},{"s":"R5","g":"ZD5","x":13,"v":158},{"s":"R5","g":"ZD5","x":14,"v":224},{"s":"R5","g":"ZD5","x":15,"v":282},{"s":"R5","g":"ZD5","x":16,"v":316},{"s":"R5","g":"ZD5","x":17,"v":316},{"s":"R5","g":"ZD5","x":18,"v":331},{"s":"R5","g":"ZD5","x":19,"v":355},{"s":"R5","g":"ZD5","x":20,"v":398},{"s":"R5","g":"ZD5","x":21,"v":447},
{"s":"R6","g":"ZD5","x":0,"v":2510},{"s":"R6","g":"ZD5","x":1,"v":100000},{"s":"R6","g":"ZD5","x":2,"v":158},{"s":"R6","g":"ZD5","x":3,"v":3160},{"s":"R6","g":"ZD5","x":4,"v":0.25},{"s":"R6","g":"ZD5","x":5,"v":10},{"s":"R6","g":"ZD5","x":6,"v":1.26},{"s":"R6","g":"ZD5","x":7,"v":10},{"s":"R6","g":"ZD5","x":8,"v":12600},{"s":"R6","g":"ZD5","x":9,"v":100000},{"s":"R6","g":"ZD5","x":10,"v":79},{"s":"R6","g":"ZD5","x":11,"v":0.08},{"s":"R6","g":"ZD5","x":12,"v":63},{"s":"R6","g":"ZD5","x":13,"v":141},{"s":"R6","g":"ZD5","x":14,"v":200},{"s":"R6","g":"ZD5","x":15,"v":251},{"s":"R6","g":"ZD5","x":16,"v":263},{"s":"R6","g":"ZD5","x":17,"v":251},{"s":"R6","g":"ZD5","x":18,"v":282},{"s":"R6","g":"ZD5","x":19,"v":316},{"s":"R6","g":"ZD5","x":20,"v":355},{"s":"R6","g":"ZD5","x":21,"v":398},
{"s":"R7","g":"ZD5","x":0,"v":1580},{"s":"R7","g":"ZD5","x":1,"v":79400},{"s":"R7","g":"ZD5","x":2,"v":100},{"s":"R7","g":"ZD5","x":3,"v":2000},{"s":"R7","g":"ZD5","x":4,"v":0.16},{"s":"R7","g":"ZD5","x":5,"v":8.9},{"s":"R7","g":"ZD5","x":6,"v":0.8},{"s":"R7","g":"ZD5","x":7,"v":7.9},{"s":"R7","g":"ZD5","x":8,"v":10000},{"s":"R7","g":"ZD5","x":9,"v":79400},{"s":"R7","g":"ZD5","x":10,"v":63},{"s":"R7","g":"ZD5","x":11,"v":0.063},{"s":"R7","g":"ZD5","x":12,"v":40},{"s":"R7","g":"ZD5","x":13,"v":100},{"s":"R7","g":"ZD5","x":14,"v":158},{"s":"R7","g":"ZD5","x":15,"v":224},{"s":"R7","g":"ZD5","x":16,"v":251},{"s":"R7","g":"ZD5","x":17,"v":224},{"s":"R7","g":"ZD5","x":18,"v":126},{"s":"R7","g":"ZD5","x":19,"v":200},{"s":"R7","g":"ZD5","x":20,"v":316},{"s":"R7","g":"ZD5","x":21,"v":331},
{"s":"R8","g":"ZD5","x":0,"v":1000},{"s":"R8","g":"ZD5","x":1,"v":63100},{"s":"R8","g":"ZD5","x":2,"v":63},{"s":"R8","g":"ZD5","x":3,"v":1260},{"s":"R8","g":"ZD5","x":4,"v":0.1},{"s":"R8","g":"ZD5","x":5,"v":7.9},{"s":"R8","g":"ZD5","x":6,"v":1},{"s":"R8","g":"ZD5","x":7,"v":6.3},{"s":"R8","g":"ZD5","x":8,"v":7940},{"s":"R8","g":"ZD5","x":9,"v":63100},{"s":"R8","g":"ZD5","x":10,"v":50},{"s":"R8","g":"ZD5","x":11,"v":0.05},{"s":"R8","g":"ZD5","x":12,"v":32},{"s":"R8","g":"ZD5","x":13,"v":79},{"s":"R8","g":"ZD5","x":14,"v":126},{"s":"R8","g":"ZD5","x":15,"v":158},{"s":"R8","g":"ZD5","x":16,"v":178},{"s":"R8","g":"ZD5","x":17,"v":178},{"s":"R8","g":"ZD5","x":18,"v":200},{"s":"R8","g":"ZD5","x":19,"v":224},{"s":"R8","g":"ZD5","x":20,"v":251},{"s":"R8","g":"ZD5","x":21,"v":282},
{"s":"R9","g":"ZD5","x":0,"v":457},{"s":"R9","g":"ZD5","x":1,"v":31600},{"s":"R9","g":"ZD5","x":2,"v":40},{"s":"R9","g":"ZD5","x":3,"v":794},{"s":"R9","g":"ZD5","x":4,"v":0.042},{"s":"R9","g":"ZD5","x":5,"v":6.3},{"s":"R9","g":"ZD5","x":6,"v":0.72},{"s":"R9","g":"ZD5","x":7,"v":4.5},{"s":"R9","g":"ZD5","x":8,"v":5010},{"s":"R9","g":"ZD5","x":9,"v":50100},{"s":"R9","g":"ZD5","x":10,"v":40},{"s":"R9","g":"ZD5","x":11,"v":0.032},{"s":"R9","g":"ZD5","x":12,"v":12.6},{"s":"R9","g":"ZD5","x":13,"v":40},{"s":"R9","g":"ZD5","x":14,"v":63},{"s":"R9","g":"ZD5","x":15,"v":89},{"s":"R9","g":"ZD5","x":16,"v":95},{"s":"R9","g":"ZD5","x":17,"v":100},{"s":"R9","g":"ZD5","x":18,"v":100},{"s":"R9","g":"ZD5","x":19,"v":100},{"s":"R9","g":"ZD5","x":20,"v":100},{"s":"R9","g":"ZD5","x":21,"v":102},
{"s":"R10","g":"ZD5","x":0,"v":2000},{"s":"R10","g":"ZD5","x":1,"v":100000},{"s":"R10","g":"ZD5","x":2,"v":32},{"s":"R10","g":"ZD5","x":3,"v":501},{"s":"R10","g":"ZD5","x":4,"v":0.32},{"s":"R10","g":"ZD5","x":5,"v":15.8},{"s":"R10","g":"ZD5","x":6,"v":3.2},{"s":"R10","g":"ZD5","x":7,"v":12.6},{"s":"R10","g":"ZD5","x":8,"v":15800},{"s":"R10","g":"ZD5","x":9,"v":100000},{"s":"R10","g":"ZD5","x":10,"v":71},{"s":"R10","g":"ZD5","x":11,"v":0.1},{"s":"R10","g":"ZD5","x":12,"v":50},{"s":"R10","g":"ZD5","x":13,"v":126},{"s":"R10","g":"ZD5","x":14,"v":178},{"s":"R10","g":"ZD5","x":15,"v":200},{"s":"R10","g":"ZD5","x":16,"v":224},{"s":"R10","g":"ZD5","x":17,"v":251},{"s":"R10","g":"ZD5","x":18,"v":282},{"s":"R10","g":"ZD5","x":19,"v":316},{"s":"R10","g":"ZD5","x":20,"v":355},{"s":"R10","g":"ZD5","x":21,"v":398},
{"s":"R11","g":"ZD5","x":0,"v":3160},{"s":"R11","g":"ZD5","x":1,"v":158000},{"s":"R11","g":"ZD5","x":2,"v":20},{"s":"R11","g":"ZD5","x":3,"v":398},{"s":"R11","g":"ZD5","x":4,"v":0.2},{"s":"R11","g":"ZD5","x":5,"v":20},{"s":"R11","g":"ZD5","x":6,"v":6.3},{"s":"R11","g":"ZD5","x":7,"v":20},{"s":"R11","g":"ZD5","x":8,"v":31600},{"s":"R11","g":"ZD5","x":9,"v":200000},{"s":"R11","g":"ZD5","x":10,"v":112},{"s":"R11","g":"ZD5","x":11,"v":0.14},{"s":"R11","g":"ZD5","x":12,"v":158},{"s":"R11","g":"ZD5","x":13,"v":282},{"s":"R11","g":"ZD5","x":14,"v":355},{"s":"R11","g":"ZD5","x":15,"v":398},{"s":"R11","g":"ZD5","x":16,"v":447},{"s":"R11","g":"ZD5","x":17,"v":398},{"s":"R11","g":"ZD5","x":18,"v":355},{"s":"R11","g":"ZD5","x":19,"v":316},{"s":"R11","g":"ZD5","x":20,"v":282},{"s":"R11","g":"ZD5","x":21,"v":251},
{"s":"R12","g":"ZD5","x":0,"v":7940},{"s":"R12","g":"ZD5","x":1,"v":224000},{"s":"R12","g":"ZD5","x":2,"v":15.8},{"s":"R12","g":"ZD5","x":3,"v":316},{"s":"R12","g":"ZD5","x":4,"v":0.5},{"s":"R12","g":"ZD5","x":5,"v":10},{"s":"R12","g":"ZD5","x":6,"v":2},{"s":"R12","g":"ZD5","x":7,"v":7.9},{"s":"R12","g":"ZD5","x":8,"v":31600},{"s":"R12","g":"ZD5","x":9,"v":178000},{"s":"R12","g":"ZD5","x":10,"v":89},{"s":"R12","g":"ZD5","x":11,"v":0.11},{"s":"R12","g":"ZD5","x":12,"v":25},{"s":"R12","g":"ZD5","x":13,"v":63},{"s":"R12","g":"ZD5","x":14,"v":100},{"s":"R12","g":"ZD5","x":15,"v":126},{"s":"R12","g":"ZD5","x":16,"v":158},{"s":"R12","g":"ZD5","x":17,"v":200},{"s":"R12","g":"ZD5","x":18,"v":251},{"s":"R12","g":"ZD5","x":19,"v":316},{"s":"R12","g":"ZD5","x":20,"v":380},{"s":"R12","g":"ZD5","x":21,"v":417},
{"s":"R13","g":"ZD5","x":0,"v":5010},{"s":"R13","g":"ZD5","x":1,"v":282000},{"s":"R13","g":"ZD5","x":2,"v":12.6},{"s":"R13","g":"ZD5","x":3,"v":200},{"s":"R13","g":"ZD5","x":4,"v":0.126},{"s":"R13","g":"ZD5","x":5,"v":7.1},{"s":"R13","g":"ZD5","x":6,"v":0.89},{"s":"R13","g":"ZD5","x":7,"v":5},{"s":"R13","g":"ZD5","x":8,"v":6310},{"s":"R13","g":"ZD5","x":9,"v":44700},{"s":"R13","g":"ZD5","x":10,"v":45},{"s":"R13","g":"ZD5","x":11,"v":0.04},{"s":"R13","g":"ZD5","x":12,"v":4},{"s":"R13","g":"ZD5","x":13,"v":20},{"s":"R13","g":"ZD5","x":14,"v":50},{"s":"R13","g":"ZD5","x":15,"v":76},{"s":"R13","g":"ZD5","x":16,"v":89},{"s":"R13","g":"ZD5","x":17,"v":95},{"s":"R13","g":"ZD5","x":18,"v":100},{"s":"R13","g":"ZD5","x":19,"v":112},{"s":"R13","g":"ZD5","x":20,"v":126},{"s":"R13","g":"ZD5","x":21,"v":141},
{"s":"R14","g":"ZD5","x":0,"v":20000},{"s":"R14","g":"ZD5","x":1,"v":316000},{"s":"R14","g":"ZD5","x":2,"v":11.2},{"s":"R14","g":"ZD5","x":3,"v":158},{"s":"R14","g":"ZD5","x":4,"v":0.8},{"s":"R14","g":"ZD5","x":5,"v":17.8},{"s":"R14","g":"ZD5","x":6,"v":5.6},{"s":"R14","g":"ZD5","x":7,"v":22.4},{"s":"R14","g":"ZD5","x":8,"v":50100},{"s":"R14","g":"ZD5","x":9,"v":316000},{"s":"R14","g":"ZD5","x":10,"v":178},{"s":"R14","g":"ZD5","x":11,"v":0.22},{"s":"R14","g":"ZD5","x":12,"v":251},{"s":"R14","g":"ZD5","x":13,"v":398},{"s":"R14","g":"ZD5","x":14,"v":501},{"s":"R14","g":"ZD5","x":15,"v":562},{"s":"R14","g":"ZD5","x":16,"v":631},{"s":"R14","g":"ZD5","x":17,"v":631},{"s":"R14","g":"ZD5","x":18,"v":631},{"s":"R14","g":"ZD5","x":19,"v":661},{"s":"R14","g":"ZD5","x":20,"v":676},{"s":"R14","g":"ZD5","x":21,"v":708},
{"s":"R15","g":"ZD5","x":0,"v":1260},{"s":"R15","g":"ZD5","x":1,"v":50100},{"s":"R15","g":"ZD5","x":2,"v":25},{"s":"R15","g":"ZD5","x":3,"v":631},{"s":"R15","g":"ZD5","x":4,"v":0.079},{"s":"R15","g":"ZD5","x":5,"v":5.6},{"s":"R15","g":"ZD5","x":6,"v":0.8},{"s":"R15","g":"ZD5","x":7,"v":4.1},{"s":"R15","g":"ZD5","x":8,"v":4170},{"s":"R15","g":"ZD5","x":9,"v":56200},{"s":"R15","g":"ZD5","x":10,"v":35},{"s":"R15","g":"ZD5","x":11,"v":0.029},{"s":"R15","g":"ZD5","x":12,"v":7.9},{"s":"R15","g":"ZD5","x":13,"v":32},{"s":"R15","g":"ZD5","x":14,"v":56},{"s":"R15","g":"ZD5","x":15,"v":79},{"s":"R15","g":"ZD5","x":16,"v":100},{"s":"R15","g":"ZD5","x":17,"v":112},{"s":"R15","g":"ZD5","x":18,"v":100},{"s":"R15","g":"ZD5","x":19,"v":79},{"s":"R15","g":"ZD5","x":20,"v":89},{"s":"R15","g":"ZD5","x":21,"v":100}
]
},
"resolve": {"scale": {"color": "independent"}, "legend": {"color": "independent"}},
"spacing": 5,
"hconcat": [
{
 "width": 298, "height": 260,
 "layer": [
  {"data": {"name": "band"}, "mark": {"type": "area", "color": "#d0d0d0", "opacity": 1},
   "encoding": {
    "x": {"field": "x", "type": "quantitative", "scale": {"domain": [-1, 15], "nice": false, "zero": false},
      "axis": {"title": null, "values": [0,1,2,3,5,6,7,8,9,10,11,12,13,14], "labels": false, "tickSize": -4}},
    "y": {"field": "lo", "type": "quantitative", "scale": {"type": "log", "domain": [0.01, 100000], "nice": false},
      "axis": {"title": "样品/球粒陨石", "values": [0.01,0.1,1,10,100,1000,10000,100000], "labelExpr": "'10' + ['⁻²','⁻¹','⁰','¹','²','³','⁴','⁵','⁶'][round(log(datum.value)/LN10)+2]", "tickSize": -4, "labelPadding": 7, "labelFlush": true, "labelOverlap": false, "titlePadding": 2}},
    "y2": {"field": "hi"}
   }},
  {"data": {"name": "a"}, "mark": {"type": "line", "strokeWidth": 0.8, "opacity": 0.8},
   "encoding": {
    "x": {"field": "x", "type": "quantitative"},
    "y": {"field": "v", "type": "quantitative"},
    "detail": {"field": "s"},
    "color": {"field": "g", "type": "nominal", "scale": {"domain": ["ZD2", "ZD5"], "range": ["#3a3a3a", "#f0302a"]},
      "legend": {"title": null, "orient": "none", "legendX": 242, "legendY": 225, "symbolType": "M-2,0H2", "symbolSize": 90, "symbolStrokeWidth": 1.2, "labelFont": "Liberation Serif", "labelFontSize": 10.5, "labelColor": "#111", "labelOffset": 4, "strokeColor": "#333", "fillColor": "white", "padding": 2, "rowPadding": 0}}
   }},
  {"data": {"values": [{"x": 0, "el": "La"}, {"x": 2, "el": "Pr"}, {"x": 5, "el": "Sm"}, {"x": 7, "el": "Gd"}, {"x": 9, "el": "Dy"}, {"x": 11, "el": "Er"}, {"x": 13, "el": "Yb"}]},
   "mark": {"type": "text", "font": "Liberation Serif", "fontSize": 12, "color": "#111", "baseline": "middle"},
   "encoding": {"x": {"field": "x", "type": "quantitative"}, "y": {"datum": 0.00538}, "text": {"field": "el"}}},
  {"data": {"values": [{"x": 1, "el": "Ce"}, {"x": 3, "el": "Nd"}, {"x": 6, "el": "Eu"}, {"x": 8, "el": "Tb"}, {"x": 10, "el": "Ho"}, {"x": 12, "el": "Tm"}, {"x": 14, "el": "Lu"}]},
   "mark": {"type": "text", "font": "Liberation Serif", "fontSize": 12, "color": "#111", "baseline": "middle"},
   "encoding": {"x": {"field": "x", "type": "quantitative"}, "y": {"datum": 0.0024}, "text": {"field": "el"}}},
  {"data": {"values": [{"x": 9.36, "y": 13500, "t": "岩浆锆石"}]}, "mark": {"type": "text", "font": "Noto Sans CJK SC", "fontSize": 12, "color": "#333"},
   "encoding": {"x": {"field": "x", "type": "quantitative"}, "y": {"field": "y", "type": "quantitative"}, "text": {"field": "t"}}},
  {"data": {"values": [{"x": 9.4, "y": 8000, "x2": 11.5, "y2": 3160}]}, "mark": {"type": "rule", "color": "#222", "strokeWidth": 1},
   "encoding": {"x": {"field": "x", "type": "quantitative"}, "y": {"field": "y", "type": "quantitative"}, "x2": {"field": "x2"}, "y2": {"field": "y2"}}},
  {"data": {"values": [{"x": -0.36, "y": 51000, "t": "a"}]}, "mark": {"type": "text", "font": "Liberation Serif", "fontSize": 15, "color": "#111"},
   "encoding": {"x": {"field": "x", "type": "quantitative"}, "y": {"field": "y", "type": "quantitative"}, "text": {"field": "t"}}}
 ]
},
{
 "spacing": 0,
 "vconcat": [
  {"width": 312, "height": 4, "data": {"values": []}, "mark": "point", "view": {"stroke": null}},
  {
   "width": 312, "height": 252,
   "layer": [
    {"data": {"name": "b"}, "mark": {"type": "line", "strokeWidth": 0.8, "opacity": 0.8},
     "encoding": {
      "x": {"field": "x", "type": "quantitative", "scale": {"domain": [-1.02, 21.8], "nice": false, "zero": false},
        "axis": {"title": null, "values": [0,1,2,3,4,5,6,7,8,9,10,11,12,13,14,15,16,17,18,19,20,21], "labels": false, "tickSize": -4}},
      "y": {"field": "v", "type": "quantitative", "scale": {"type": "log", "domain": [0.01, 1349000], "nice": false},
        "axis": {"title": "样品/球粒陨石", "values": [0.01,0.1,1,10,100,1000,10000,100000,1000000], "labelExpr": "'10' + ['⁻²','⁻¹','⁰','¹','²','³','⁴','⁵','⁶'][round(log(datum.value)/LN10)+2]", "tickSize": -4, "labelPadding": 7, "labelFlush": true, "labelOverlap": false, "titlePadding": 2}},
      "detail": {"field": "s"},
      "color": {"field": "g", "type": "nominal", "scale": {"domain": ["ZD2", "ZD5"], "range": ["#3a3a3a", "#f0302a"]}, "legend": null}
     }},
    {"data": {"values": [{"x": 0, "el": "Th"}, {"x": 2, "el": "Nb"}, {"x": 4, "el": "La"}, {"x": 6, "el": "Pr"}, {"x": 8, "el": "Zr"}, {"x": 10, "el": "P"}, {"x": 12, "el": "Eu"}, {"x": 14, "el": "Tb"}, {"x": 16, "el": "Y"}, {"x": 18, "el": "Er"}, {"x": 20, "el": "Yb"}]},
     "mark": {"type": "text", "font": "Liberation Serif", "fontSize": 12, "color": "#111", "baseline": "middle"},
     "encoding": {"x": {"field": "x", "type": "quantitative"}, "y": {"datum": 0.00475}, "text": {"field": "el"}}},
    {"data": {"values": [{"x": 1, "el": "U"}, {"x": 3, "el": "Ta"}, {"x": 5, "el": "Ce"}, {"x": 7, "el": "Nd"}, {"x": 9, "el": "Hf"}, {"x": 11, "el": "Ti"}, {"x": 13, "el": "Gd"}, {"x": 15, "el": "Dy"}, {"x": 17, "el": "Ho"}, {"x": 19, "el": "Tm"}, {"x": 21, "el": "Lu"}]},
     "mark": {"type": "text", "font": "Liberation Serif", "fontSize": 12, "color": "#111", "baseline": "middle"},
     "encoding": {"x": {"field": "x", "type": "quantitative"}, "y": {"datum": 0.00181}, "text": {"field": "el"}}},
    {"data": {"values": [{"x": -0.14, "y": 513000, "t": "b"}]}, "mark": {"type": "text", "font": "Liberation Serif", "fontSize": 15, "color": "#111"},
     "encoding": {"x": {"field": "x", "type": "quantitative"}, "y": {"field": "y", "type": "quantitative"}, "text": {"field": "t"}}}
   ]
  }
 ]
}
]
}
